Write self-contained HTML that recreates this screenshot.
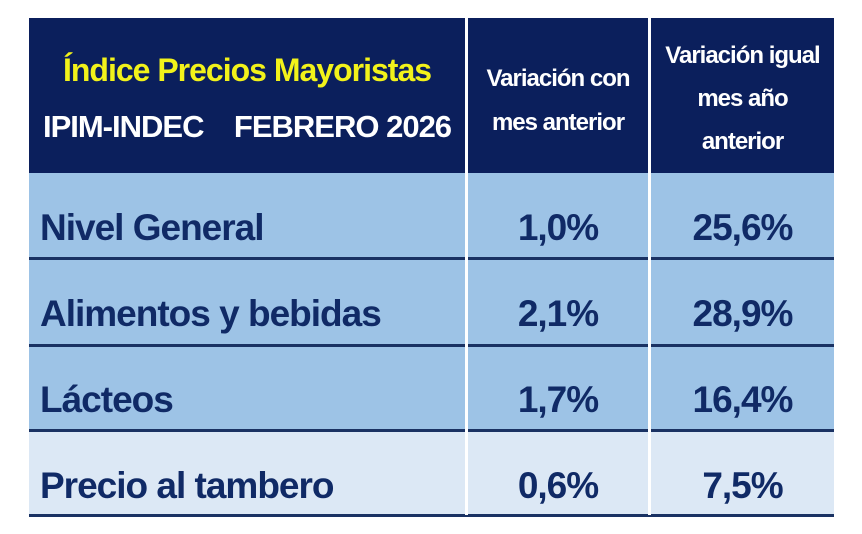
<!DOCTYPE html>
<html><head><meta charset="utf-8"><style>
body{margin:0;width:862px;height:534px;background:#fff;position:relative;overflow:hidden;font-family:"Liberation Sans",sans-serif;font-weight:bold}
.a{position:absolute}
.hdr{left:29px;top:18px;width:805px;height:155px;background:#0b1f5c}
.row{left:29px;width:805px;background:#9dc3e6}
.line{left:29px;width:805px;height:3px;background:#1a3263}
.vd{width:3px;background:#fff}
.t{color:#102a66;font-size:37px;letter-spacing:-1px;white-space:nowrap;line-height:44px}
.c{text-align:center}
.w{color:#fff}
</style></head><body>
<div class="a hdr"></div>
<div class="a row" style="top:173px;height:85px"></div>
<div class="a row" style="top:258px;height:87px"></div>
<div class="a row" style="top:345px;height:85px"></div>
<div class="a row" style="top:430px;height:86px;background:#dce8f5"></div>
<div class="a line" style="top:257px"></div>
<div class="a line" style="top:344px"></div>
<div class="a line" style="top:429px"></div>
<div class="a line" style="top:514px"></div>
<div class="a vd" style="left:465px;top:18px;height:497px"></div>
<div class="a vd" style="left:648px;top:18px;height:497px"></div>

<div class="a c" style="left:29px;width:436px;top:51px;color:#f2f21a;font-size:32px;letter-spacing:-1px;line-height:38px">Índice Precios Mayoristas</div>
<div class="a c w" style="left:29px;width:436px;top:108px;font-size:31px;letter-spacing:-1px;white-space:pre;line-height:38px">IPIM-INDEC    FEBRERO 2026</div>
<div class="a c w" style="left:468px;width:180px;top:57px;font-size:24px;line-height:44px;letter-spacing:-1px">Variación con<br>mes anterior</div>
<div class="a c w" style="left:651px;width:183px;top:34px;font-size:24px;line-height:43px;letter-spacing:-1px">Variación igual<br>mes año<br>anterior</div>

<div class="a t" style="left:40px;top:206px">Nivel General</div>
<div class="a t" style="left:40px;top:292px">Alimentos y bebidas</div>
<div class="a t" style="left:40px;top:378px">Lácteos</div>
<div class="a t" style="left:40px;top:464px">Precio al tambero</div>

<div class="a t c" style="left:468px;width:180px;top:206px">1,0%</div>
<div class="a t c" style="left:468px;width:180px;top:292px">2,1%</div>
<div class="a t c" style="left:468px;width:180px;top:378px">1,7%</div>
<div class="a t c" style="left:468px;width:180px;top:464px">0,6%</div>

<div class="a t c" style="left:651px;width:183px;top:206px">25,6%</div>
<div class="a t c" style="left:651px;width:183px;top:292px">28,9%</div>
<div class="a t c" style="left:651px;width:183px;top:378px">16,4%</div>
<div class="a t c" style="left:651px;width:183px;top:464px">7,5%</div>
</body></html>
